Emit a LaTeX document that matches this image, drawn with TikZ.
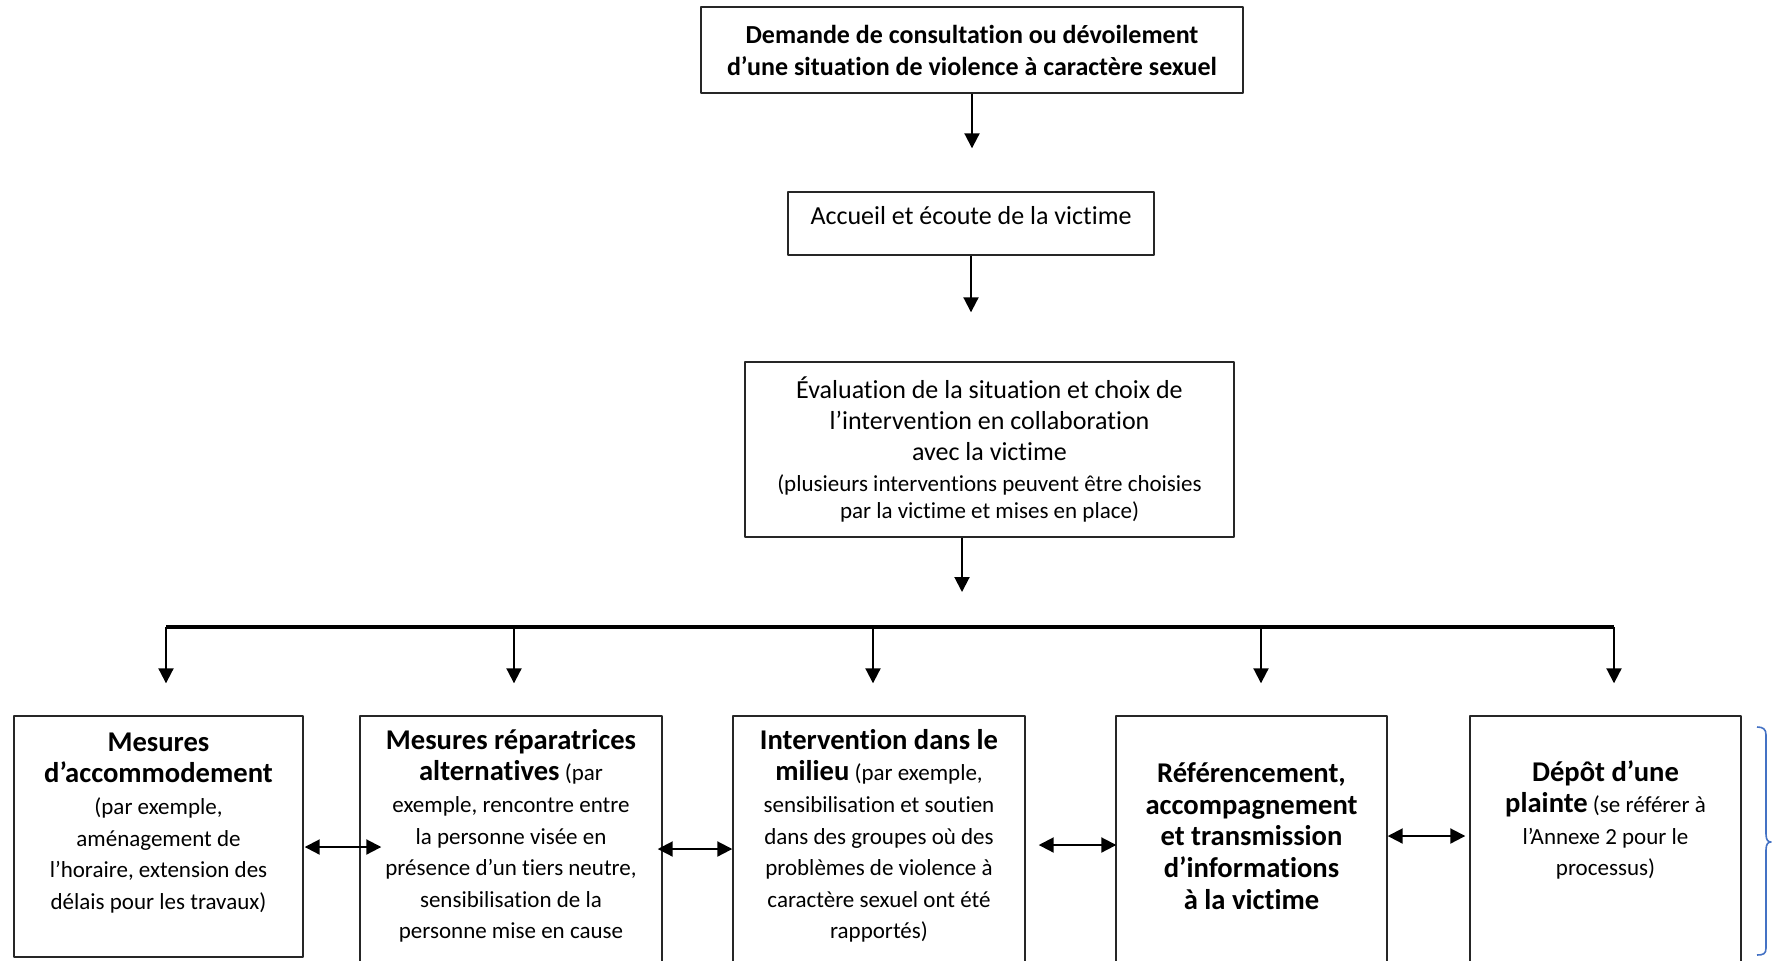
\documentclass[tikz,border=0pt]{standalone}
\usepackage{fontspec}
\setmainfont{Carlito}[Ligatures=NoCommon]
\usetikzlibrary{arrows.meta,calc}
\definecolor{bracecol}{RGB}{68,114,196}
\newcommand\hd{\fontsize{14.3}{15.8}\selectfont\bfseries}
\newcommand\sm{\fontsize{11.5}{13.5}\selectfont}
\begin{document}
\begin{tikzpicture}[x=0.5pt,y=-0.5pt,>={Triangle[width=7.5pt,length=7.5pt]},line join=round,
  box/.style={draw=black!85,line width=0.7pt,align=center,inner sep=0pt,font=\fontsize{11.5}{15.8}\selectfont},
  lowbox/.style={box,minimum height=124pt},
  arr/.style={->,line width=1pt},
  dbl/.style={<->,line width=1pt},
  bar/.style={line width=2pt}]
\useasboundingbox (0,0) rectangle (1772,960);

% top of the chart
\node[box,minimum width=271pt,minimum height=43pt,font=\fontsize{13}{16}\selectfont\bfseries] (demande) at (972,50)
  {Demande de consultation ou dévoilement\\d’une situation de violence à caractère sexuel};
\node[box,minimum width=183pt,minimum height=31.5pt,text depth=8pt,font=\fontsize{13}{16}\selectfont] (accueil) at (971,223.5)
  {Accueil et écoute de la victime};
\node[box,minimum width=244.5pt,minimum height=87.5pt,font=\fontsize{13}{15.6}\selectfont] (eval) at (989.5,449.5)
  {Évaluation de la situation et choix de\\l’intervention en collaboration\\avec la victime\\
   {\sm (plusieurs interventions peuvent être choisies}\\[-2pt]
   {\sm par la victime et mises en place)}};

% the five interventions
\node[box,minimum width=144.5pt,minimum height=120.5pt,text depth=15.5pt] (b1) at (158.5,836.5)
  {{\hd Mesures}\\{\hd d’accommodement}\\(par exemple,\\aménagement de\\l’horaire, extension des\\délais pour les travaux)};
\node[lowbox,minimum width=151pt,text depth=6pt] (b2) at (511,840)
  {{\hd Mesures réparatrices}\\{\hd alternatives} (par\\exemple, rencontre entre\\la personne visée en\\présence d’un tiers neutre,\\sensibilisation de la\\personne mise en cause};
\node[lowbox,minimum width=146pt,text depth=6pt] (b3) at (879,840)
  {{\hd Intervention dans le}\\{\hd milieu} (par exemple,\\sensibilisation et soutien\\dans des groupes où des\\problèmes de violence à\\caractère sexuel ont été\\rapportés)};
\node[lowbox,minimum width=135.5pt,text depth=4pt] (b4) at (1251.5,840)
  {{\hd Référencement,}\\{\hd accompagnement}\\{\hd et transmission}\\{\hd d’informations}\\{\hd à la victime}};
\node[lowbox,minimum width=135.5pt,text depth=22pt] (b5) at (1605.5,840)
  {{\hd Dépôt d’une}\\{\hd plainte} (se référer à\\l’Annexe 2 pour le\\processus)};

% fork
\coordinate (fork) at (962,627);
\coordinate (f1) at (166,627);
\coordinate (f2) at (514,627);
\coordinate (f3) at (873,627);
\coordinate (f4) at (1261,627);
\coordinate (f5) at (1614,627);

\draw[arr,shorten >=21.5pt] (demande.south) -- (demande.south |- accueil.north);
\draw[arr,shorten >=24.5pt] (accueil.south) -- (accueil.south |- eval.north);
\draw[arr,shorten >=17.5pt] (eval.south -| fork) -- (fork);
\draw[bar] (f1) -- (f5);
\foreach \i in {1,...,5}
  \draw[arr,shorten >=16pt] (f\i) -- (f\i |- b\i.north);

% links between neighbours
\draw[dbl] ($(b1.east)+(1,10.5)$) -- ($(b2.west)+(22,7)$);
\draw[dbl] ($(b2.east)+(-5,9)$) -- ($(b3.west)+(0,9)$);
\draw[dbl] ($(b3.east)+(13,5)$) -- ($(b4.west)+(1,5)$);
\draw[dbl] ($(b4.east)+(0,-4)$) -- ($(b5.west)+(-4,-4)$);

% brace
\draw[bracecol,line width=0.8pt] (1757,727) .. controls (1763,727) and (1766,729) .. (1766,735) -- (1766,834)
  .. controls (1766,840) and (1768,842) .. (1771,842) .. controls (1768,842) and (1766,844) .. (1766,850)
  -- (1766,948) .. controls (1766,954) and (1763,955) .. (1757,955);
\end{tikzpicture}
\end{document}
